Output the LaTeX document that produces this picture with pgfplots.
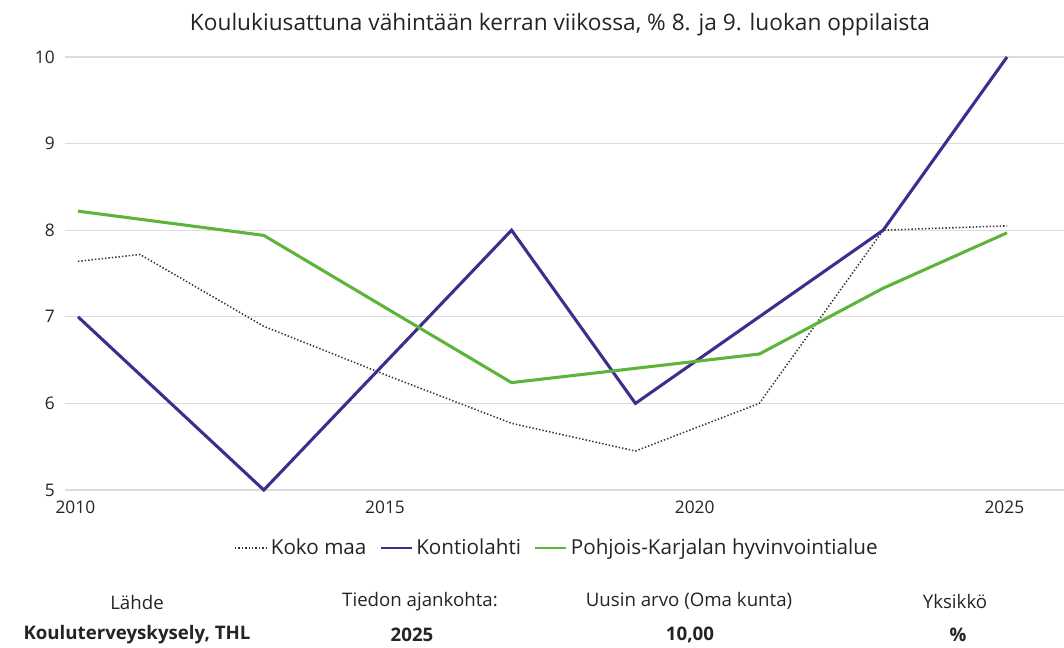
\documentclass[border=0pt]{standalone}
\usepackage{fontspec}
\setmainfont{Open Sans}
\usepackage{pgfplots}
\pgfplotsset{compat=1.18}
\definecolor{kpurple}{HTML}{3F2D8E}
\definecolor{kgreen}{HTML}{5CB53A}
\definecolor{kgray}{HTML}{333333}
\definecolor{kgrid}{HTML}{DCDCDC}
\definecolor{ktext}{HTML}{252423}
\begin{document}
\begin{tikzpicture}[x=0.75pt,y=-0.75pt]
\path[use as bounding box] (0,0) rectangle (1064,648);
\node[text=ktext] at (560,25) {\fontsize{17}{20}\selectfont Koulukiusattuna vähintään kerran viikossa, \% 8. ja 9. luokan oppilaista};
\begin{axis}[
  at={(48.75pt,-367.5pt)}, anchor=south west,
  scale only axis, width=749.25pt, height=324.75pt,
  xmin=2009.79, xmax=2025.92, ymin=5, ymax=10,
  xtick={2010,2015,2020,2025}, ytick={5,6,7,8,9,10},
  axis line style={draw=none}, major tick length=0pt,
  ymajorgrids, grid style={kgrid, line width=1pt},
  /pgf/number format/assume math mode=true,
  /pgf/number format/1000 sep={},
  tick label style={font=\fontsize{13}{15}\selectfont, text=ktext},
  xticklabel style={anchor=center, inner sep=0pt, yshift=-12.75pt, xshift=-2pt},
  yticklabel style={anchor=east, inner sep=0pt, xshift=-7.5pt},
  clip=false,
  legend style={at={(0.4935,-0.134)}, anchor=center, draw=none, fill=none,
    legend columns=3, font=\fontsize{15.5}{18}\selectfont, text=ktext,
    /tikz/every even column/.append style={column sep=7pt},
    nodes={inner sep=3pt}},
  legend image code/.code={\draw[#1, line width=1.1pt] (0pt,0pt) -- (23.25pt,0pt);},
]
\addplot[kgray, line width=1.15pt, dash pattern=on 1.05pt off 1.5pt] coordinates {
 (2010,7.64) (2011,7.72) (2013,6.89) (2015,6.32) (2017,5.77) (2019,5.45) (2021,6.0) (2023,8.0) (2025,8.05)};
\addlegendentry{Koko maa}
\addplot[kpurple, line width=2.3pt, line join=miter] coordinates {
 (2010,7) (2013,5) (2017,8) (2019,6) (2023,8) (2025,10)};
\addlegendentry{Kontiolahti}
\addplot[kgreen, line width=2.3pt] coordinates {
 (2010,8.22) (2013,7.94) (2017,6.24) (2021,6.57) (2023,7.33) (2025,7.97)};
\addlegendentry{Pohjois-Karjalan hyvinvointialue}
\end{axis}
\begin{scope}[every node/.style={text=ktext, font=\fontsize{14}{16}\selectfont}]
\node at (137,602) {Lähde};
\node at (420,602) {Tiedon ajankohta:};
\node at (689,601) {Uusin arvo (Oma kunta)};
\node at (955,601) {Yksikkö};
\node[font=\fontsize{14}{16}\selectfont\bfseries] at (137,635) {Kouluterveyskysely, THL};
\node[font=\fontsize{14}{16}\selectfont\bfseries] at (412,635) {2025};
\node[font=\fontsize{14}{16}\selectfont\bfseries] at (690,635) {10,00};
\node[font=\fontsize{14}{16}\selectfont\bfseries] at (958,635) {\%};
\end{scope}
\end{tikzpicture}
\end{document}
